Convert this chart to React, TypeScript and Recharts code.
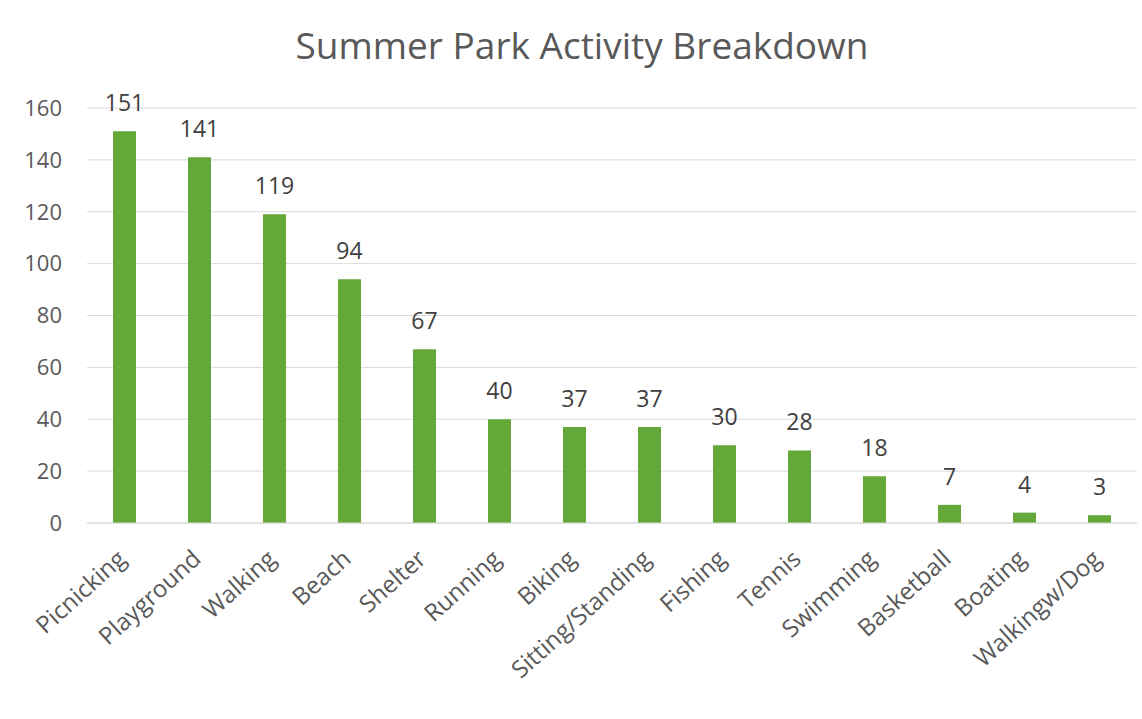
import { Bar, BarChart, CartesianGrid, LabelList, XAxis, YAxis } from "recharts";

const activities = [
  "Picnicking",
  "Playground",
  "Walking",
  "Beach",
  "Shelter",
  "Running",
  "Biking",
  "Sitting/Standing",
  "Fishing",
  "Tennis",
  "Swimming",
  "Basketball",
  "Boating",
  "Walkingw/Dog"
];

const counts = [151, 141, 119, 94, 67, 40, 37, 37, 30, 28, 18, 7, 4, 3];

const yTicks = [0, 20, 40, 60, 80, 100, 120, 140, 160];

const data = activities.map((name, i) => ({ name, count: counts[i] }));

const font = "'Open Sans', 'Noto Sans', sans-serif";

function CategoryTick({ x, y, payload }: any) {
  return (
    <g transform={`translate(${x + 3},${y + 30})`}>
      <text
        textAnchor="end"
        transform="rotate(-42)"
        fill="#595959"
        fontSize={24}
        fontFamily={font}
      >
        {payload.value}
      </text>
    </g>
  );
}

export default function App() {
  return (
    <div
      style={{
        position: "absolute",
        left: 0,
        top: 0,
        width: 1142,
        height: 719,
        background: "#ffffff",
        fontFamily: font
      }}
    >
      <div
        style={{
          position: "absolute",
          left: 0,
          width: 1164,
          top: 20,
          textAlign: "center",
          fontSize: 37,
          lineHeight: "50px",
          color: "#595959"
        }}
      >
        Summer Park Activity Breakdown
      </div>
      <BarChart
        width={1142}
        height={719}
        data={data}
        margin={{ top: 108, right: 5, left: 0, bottom: 0 }}
        barCategoryGap="0%"
      >
        <CartesianGrid stroke="#d9d9d9" vertical={false} />
        <XAxis
          dataKey="name"
          axisLine={{ stroke: "#d9d9d9" }}
          tickLine={false}
          interval={0}
          tick={<CategoryTick />}
          height={196}
        />
        <YAxis
          domain={[0, 160]}
          ticks={yTicks}
          axisLine={false}
          tickLine={false}
          tickSize={0}
          tickMargin={25}
          width={87}
          tick={{ fill: "#595959", fontSize: 22, fontFamily: font }}
        />
        <Bar dataKey="count" fill="#63a839" barSize={23} isAnimationActive={false}>
          <LabelList
            dataKey="count"
            position="top"
            offset={20}
            fill="#404040"
            fontSize={23}
            fontFamily={font}
          />
        </Bar>
      </BarChart>
    </div>
  );
}
